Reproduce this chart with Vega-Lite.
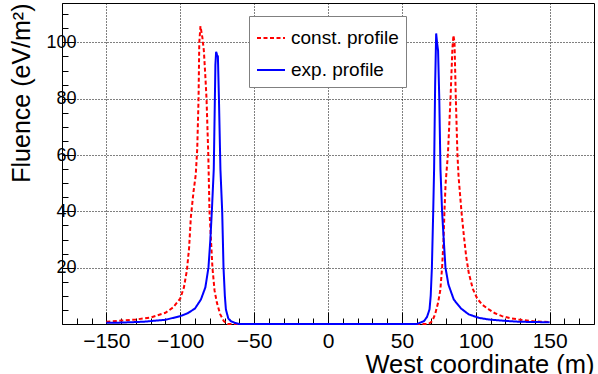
{
  "$schema": "https://vega.github.io/schema/vega-lite/v6.json",
  "width": 532,
  "height": 321,
  "autosize": "none",
  "padding": {"left": 62, "top": 3, "right": 4, "bottom": 50},
  "background": "white",
  "config": {
    "view": {"stroke": "black", "strokeWidth": 1},
    "font": "Liberation Sans"
  },
  "data": {
    "values": [
      {"series": "const. profile", "x": -150, "y": 0.8},
      {"series": "const. profile", "x": -140, "y": 1.2},
      {"series": "const. profile", "x": -130, "y": 1.6},
      {"series": "const. profile", "x": -120, "y": 2.3},
      {"series": "const. profile", "x": -110, "y": 4.0},
      {"series": "const. profile", "x": -105, "y": 5.8},
      {"series": "const. profile", "x": -100, "y": 9.0},
      {"series": "const. profile", "x": -97.5, "y": 13},
      {"series": "const. profile", "x": -95.5, "y": 19},
      {"series": "const. profile", "x": -94, "y": 27},
      {"series": "const. profile", "x": -92.8, "y": 38},
      {"series": "const. profile", "x": -91, "y": 47},
      {"series": "const. profile", "x": -89.5, "y": 53},
      {"series": "const. profile", "x": -88.5, "y": 62},
      {"series": "const. profile", "x": -87.6, "y": 80},
      {"series": "const. profile", "x": -87.1, "y": 100},
      {"series": "const. profile", "x": -86.3, "y": 105.8},
      {"series": "const. profile", "x": -85.0, "y": 101.7},
      {"series": "const. profile", "x": -84.0, "y": 97},
      {"series": "const. profile", "x": -83.0, "y": 88},
      {"series": "const. profile", "x": -82.2, "y": 80},
      {"series": "const. profile", "x": -81, "y": 60},
      {"series": "const. profile", "x": -80.6, "y": 50},
      {"series": "const. profile", "x": -80.2, "y": 40},
      {"series": "const. profile", "x": -79.2, "y": 30},
      {"series": "const. profile", "x": -78.2, "y": 20},
      {"series": "const. profile", "x": -76.8, "y": 12},
      {"series": "const. profile", "x": -75.2, "y": 7.6},
      {"series": "const. profile", "x": -73, "y": 3.5},
      {"series": "const. profile", "x": -70.5, "y": 1},
      {"series": "const. profile", "x": -68, "y": 0},
      {"series": "const. profile", "x": 0, "y": 0},
      {"series": "const. profile", "x": 68, "y": 0},
      {"series": "const. profile", "x": 70.5, "y": 1},
      {"series": "const. profile", "x": 72.5, "y": 3.5},
      {"series": "const. profile", "x": 74.5, "y": 7.6},
      {"series": "const. profile", "x": 76, "y": 12},
      {"series": "const. profile", "x": 77.2, "y": 20},
      {"series": "const. profile", "x": 78.2, "y": 30},
      {"series": "const. profile", "x": 78.8, "y": 40},
      {"series": "const. profile", "x": 79.6, "y": 50},
      {"series": "const. profile", "x": 81.1, "y": 60},
      {"series": "const. profile", "x": 82.9, "y": 80},
      {"series": "const. profile", "x": 84.2, "y": 98},
      {"series": "const. profile", "x": 84.9, "y": 102.5},
      {"series": "const. profile", "x": 85.6, "y": 100},
      {"series": "const. profile", "x": 86.5, "y": 80},
      {"series": "const. profile", "x": 87.6, "y": 60},
      {"series": "const. profile", "x": 88.4, "y": 52},
      {"series": "const. profile", "x": 90.3, "y": 40},
      {"series": "const. profile", "x": 92, "y": 31},
      {"series": "const. profile", "x": 93.5, "y": 24},
      {"series": "const. profile", "x": 95.3, "y": 18},
      {"series": "const. profile", "x": 98, "y": 12.5},
      {"series": "const. profile", "x": 101, "y": 9},
      {"series": "const. profile", "x": 104.5, "y": 6.8},
      {"series": "const. profile", "x": 108.8, "y": 5.2},
      {"series": "const. profile", "x": 113, "y": 3.8},
      {"series": "const. profile", "x": 117.8, "y": 2.8},
      {"series": "const. profile", "x": 123, "y": 2.1},
      {"series": "const. profile", "x": 129, "y": 1.6},
      {"series": "const. profile", "x": 140, "y": 0.9},
      {"series": "const. profile", "x": 150, "y": 0.7},
      {"series": "exp. profile", "x": -150, "y": 0.4},
      {"series": "exp. profile", "x": -140, "y": 0.5},
      {"series": "exp. profile", "x": -125, "y": 0.8},
      {"series": "exp. profile", "x": -110, "y": 1.5},
      {"series": "exp. profile", "x": -100, "y": 2.8},
      {"series": "exp. profile", "x": -95, "y": 3.8},
      {"series": "exp. profile", "x": -90, "y": 5.5},
      {"series": "exp. profile", "x": -86, "y": 8.7},
      {"series": "exp. profile", "x": -83, "y": 13},
      {"series": "exp. profile", "x": -80.9, "y": 20},
      {"series": "exp. profile", "x": -79.6, "y": 30},
      {"series": "exp. profile", "x": -78.6, "y": 40},
      {"series": "exp. profile", "x": -77.3, "y": 55},
      {"series": "exp. profile", "x": -76.7, "y": 75},
      {"series": "exp. profile", "x": -76.2, "y": 92},
      {"series": "exp. profile", "x": -75.7, "y": 96.7},
      {"series": "exp. profile", "x": -75, "y": 95.5},
      {"series": "exp. profile", "x": -74.5, "y": 95},
      {"series": "exp. profile", "x": -73.8, "y": 80},
      {"series": "exp. profile", "x": -72.8, "y": 55},
      {"series": "exp. profile", "x": -71.6, "y": 40},
      {"series": "exp. profile", "x": -70.7, "y": 20},
      {"series": "exp. profile", "x": -69.8, "y": 10},
      {"series": "exp. profile", "x": -69.1, "y": 5.2},
      {"series": "exp. profile", "x": -67.5, "y": 2},
      {"series": "exp. profile", "x": -65.7, "y": 1},
      {"series": "exp. profile", "x": -63, "y": 0.4},
      {"series": "exp. profile", "x": -60, "y": 0},
      {"series": "exp. profile", "x": 0, "y": 0},
      {"series": "exp. profile", "x": 60, "y": 0},
      {"series": "exp. profile", "x": 62, "y": 0.4},
      {"series": "exp. profile", "x": 64.9, "y": 1},
      {"series": "exp. profile", "x": 67, "y": 2.5},
      {"series": "exp. profile", "x": 68.7, "y": 5.2},
      {"series": "exp. profile", "x": 69.5, "y": 10},
      {"series": "exp. profile", "x": 70.3, "y": 20},
      {"series": "exp. profile", "x": 71.2, "y": 40},
      {"series": "exp. profile", "x": 71.8, "y": 55},
      {"series": "exp. profile", "x": 72.5, "y": 85},
      {"series": "exp. profile", "x": 73.2, "y": 103.2},
      {"series": "exp. profile", "x": 73.8, "y": 100},
      {"series": "exp. profile", "x": 74.5, "y": 97},
      {"series": "exp. profile", "x": 75.3, "y": 80},
      {"series": "exp. profile", "x": 76.1, "y": 55},
      {"series": "exp. profile", "x": 77.2, "y": 40},
      {"series": "exp. profile", "x": 78.3, "y": 30},
      {"series": "exp. profile", "x": 79.5, "y": 20},
      {"series": "exp. profile", "x": 81.5, "y": 14},
      {"series": "exp. profile", "x": 85.1, "y": 8.7},
      {"series": "exp. profile", "x": 90, "y": 5.5},
      {"series": "exp. profile", "x": 95.3, "y": 3.4},
      {"series": "exp. profile", "x": 102, "y": 2.2},
      {"series": "exp. profile", "x": 108.8, "y": 1.6},
      {"series": "exp. profile", "x": 117.8, "y": 1.2},
      {"series": "exp. profile", "x": 129, "y": 0.8},
      {"series": "exp. profile", "x": 140, "y": 0.7},
      {"series": "exp. profile", "x": 150, "y": 0.6}
    ]
  },
  "layer": [
    {
      "mark": {"type": "line", "strokeWidth": 2, "clip": false},
      "encoding": {
        "x": {
          "field": "x", "type": "quantitative",
          "scale": {"domain": [-180, 180], "nice": false, "zero": false},
          "axis": {
            "orient": "bottom",
            "values": [-150, -100, -50, 0, 50, 100, 150],
            "title": "West coordinate (m)",
            "titleFontSize": 25.5, "titleFontWeight": "normal", "titleColor": "black",
            "titleX": 532, "titleY": 48, "titleAlign": "right", "titleBaseline": "alphabetic", "titleAnchor": "end",
            "labelFontSize": 21, "labelColor": "black", "labelPadding": 18, "labelFlush": false,
            "tickSize": -12, "tickColor": "black", "tickWidth": 1,
            "grid": true, "gridColor": "black", "gridDash": [1, 2], "gridOpacity": 1, "gridWidth": 1,
            "domainColor": "black", "domainWidth": 1
          }
        },
        "y": {
          "field": "y", "type": "quantitative",
          "scale": {"domain": [0, 114], "nice": false, "zero": false},
          "axis": {
            "orient": "left",
            "values": [20, 40, 60, 80, 100],
            "title": "Fluence (eV/m²)",
            "titleFontSize": 25, "titleFontWeight": "normal", "titleColor": "black",
            "titleX": -33, "titleY": 0, "titleAlign": "right", "titleBaseline": "alphabetic", "titleAnchor": "end", "titleAngle": -90,
            "labelFontSize": 18, "labelColor": "black", "labelPadding": -2,
            "tickSize": -12, "tickColor": "black", "tickWidth": 1,
            "grid": true, "gridColor": "black", "gridDash": [1, 2], "gridOpacity": 1, "gridWidth": 1,
            "domainColor": "black", "domainWidth": 1
          }
        },
        "color": {
          "field": "series", "type": "nominal",
          "scale": {"domain": ["const. profile", "exp. profile"], "range": ["#ff0000", "#0000ff"]},
          "legend": {
            "orient": "none", "legendX": 187, "legendY": 13, "title": null,
            "labelFontSize": 19, "labelColor": "black", "labelLimit": 400, "labelOffset": 5,
            "symbolType": "stroke", "symbolSize": 784, "symbolStrokeWidth": 2,
            "strokeColor": "#808080", "fillColor": "white", "padding": 7, "rowPadding": 7
          }
        },
        "strokeDash": {
          "field": "series", "type": "nominal",
          "scale": {"domain": ["const. profile", "exp. profile"], "range": [[4, 2.5], [1, 0]]},
          "legend": {
            "orient": "none", "legendX": 187, "legendY": 13, "title": null,
            "labelFontSize": 19, "labelColor": "black", "labelLimit": 400, "labelOffset": 5,
            "symbolType": "stroke", "symbolSize": 784, "symbolStrokeWidth": 2,
            "strokeColor": "#808080", "fillColor": "white", "padding": 7, "rowPadding": 7
          }
        }
      }
    },
    {
      "mark": {"type": "point", "opacity": 0},
      "encoding": {
        "x": {
          "field": "x", "type": "quantitative",
          "axis": {
            "orient": "bottom",
            "values": [-170, -160, -140, -130, -120, -110, -90, -80, -70, -60, -40, -30, -20, -10, 10, 20, 30, 40, 60, 70, 80, 90, 110, 120, 130, 140, 160, 170],
            "labels": false, "title": null, "grid": false, "domain": false,
            "tickSize": -6, "tickColor": "black", "tickWidth": 1
          }
        },
        "y": {
          "field": "y", "type": "quantitative",
          "axis": {
            "orient": "left",
            "values": [5, 10, 15, 25, 30, 35, 45, 50, 55, 65, 70, 75, 85, 90, 95, 105, 110],
            "labels": false, "title": null, "grid": false, "domain": false,
            "tickSize": -6, "tickColor": "black", "tickWidth": 1
          }
        }
      }
    }
  ],
  "resolve": {"axis": {"x": "independent", "y": "independent"}}
}
